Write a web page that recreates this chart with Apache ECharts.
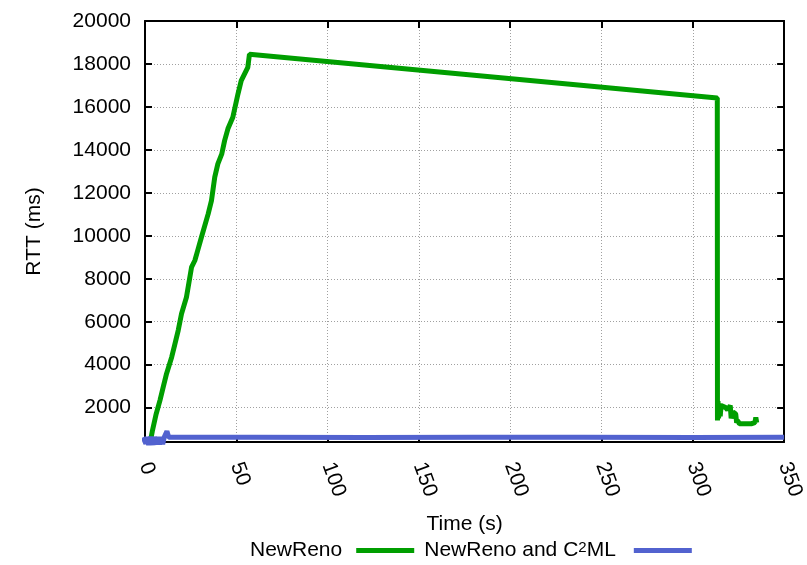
<!DOCTYPE html>
<html>
<head>
<meta charset="utf-8">
<script src="https://cdn.jsdelivr.net/npm/echarts@6/dist/echarts.min.js"></script>
<style>
  html, body { margin: 0; padding: 0; background: #ffffff; }
  #chart { width: 807px; height: 565px; }
</style>
</head>
<body>
<div id="chart"></div>
<script>
// Axis ticks
const timeTicks = [0, 50, 100, 150, 200, 250, 300, 350];
const rttTicks = [2000, 4000, 6000, 8000, 10000, 12000, 14000, 16000, 18000, 20000];

// NewReno RTT trace (time in s, RTT in ms)
const newRenoTime = [
  3, 4, 6.1, 8.2, 10.1, 11.8, 14.6, 16.2, 18.2, 20, 22.7, 25.5, 27.3, 28.8, 30.9,
  34.6, 36.4, 38.2, 39.9, 42, 43.6, 45.4, 48.1, 50.9, 52.7, 56.3, 57.2, 58,
  313.4, 313.5, 313.8, 314.1, 314.5, 315, 315.5, 316, 318, 319, 320.5, 321,
  322, 323.5, 324, 324.5, 325.5, 328, 332, 334, 334.5, 335
];
const newRenoRtt = [
  450, 900, 1700, 2340, 3000, 3580, 4350, 4900, 5600, 6370, 7140, 8540, 8850, 9300, 9930,
  11020, 11640, 12730, 13350, 13800, 14430, 14980, 15520, 16600, 17220, 17840, 18450, 18450,
  16420, 1400, 2300, 1500, 2200, 1600, 2100, 2050, 2000, 1900, 2100, 1500,
  1800, 1700, 1300, 1400, 1250, 1250, 1250, 1300, 1550, 1300
];

// NewReno and C2ML RTT trace
const c2mlTime = [-1, 0.5, 1, 2, 3, 4.3, 5.2, 6.5, 7.2, 8, 8.8, 9.7, 10.5, 12, 13, 60, 120, 180, 240, 300, 350];
const c2mlRtt  = [620, 320, 640, 260, 640, 270, 630, 290, 640, 280, 630, 300, 620, 900, 620, 620, 615, 620, 620, 615, 620];

const seriesNames = ['NewReno', 'NewReno and C\u00B2ML'];
const axisTitles = { x: 'Time (s)', y: 'RTT (ms)' };

const FONT = 'Liberation Sans, Arial, Helvetica, sans-serif';
const zip = (xs, ys) => xs.map((x, i) => [x, ys[i]]);

const gridLine = { show: true, lineStyle: { color: '#a0a0a0', width: 1, type: [1, 2] } };
const frameLine = { show: true, onZero: false, lineStyle: { color: '#000', width: 2 } };
const tickStyle = { show: true, inside: true, length: 7, lineStyle: { color: '#000', width: 2 } };

const chart = echarts.init(document.getElementById('chart'), null, { renderer: 'canvas' });
chart.setOption({
  animation: false,
  backgroundColor: '#ffffff',
  textStyle: { fontFamily: FONT, color: '#000' },
  grid: { left: 145, right: 20, top: 21, bottom: 123, containLabel: false },
  legend: {
    data: [
      { name: seriesNames[0] },
      { name: seriesNames[1], textStyle: { padding: [0, 13, 0, 0] } }
    ],
    left: 245,
    top: 535,
    align: 'right',
    itemWidth: 58,
    itemHeight: 5,
    itemGap: 10,
    icon: 'rect',
    formatter: name => name.replace('\u00B2', '{sup|2}'),
    textStyle: {
      fontFamily: FONT, fontSize: 21, color: '#000', padding: [0, 9, 0, 0],
      rich: { sup: { fontFamily: FONT, fontSize: 15, verticalAlign: 'top', lineHeight: 14 } }
    }
  },
  xAxis: [
    {
      type: 'value', min: 0, max: 350, interval: 50, position: 'bottom',
      name: axisTitles.x, nameLocation: 'middle', nameGap: 72,
      nameTextStyle: { fontFamily: FONT, fontSize: 21, color: '#000' },
      axisLine: frameLine, axisTick: tickStyle,
      axisLabel: { fontFamily: FONT, fontSize: 21, color: '#000', rotate: -70, margin: 21 },
      splitLine: gridLine
    },
    {
      type: 'value', min: 0, max: 350, interval: 50, position: 'top',
      axisLine: frameLine, axisTick: tickStyle,
      axisLabel: { show: false }, splitLine: { show: false }
    }
  ],
  yAxis: [
    {
      type: 'value', min: 400, max: 20000, position: 'left',
      name: axisTitles.y, nameLocation: 'middle', nameGap: 100,
      nameTextStyle: { fontFamily: FONT, fontSize: 21, color: '#000' },
      axisLine: frameLine,
      axisTick: Object.assign({ customValues: rttTicks }, tickStyle),
      axisLabel: {
        fontFamily: FONT, fontSize: 21, color: '#000', margin: 14,
        customValues: rttTicks, formatter: v => String(v)
      },
      splitLine: gridLine
    },
    {
      type: 'value', min: 400, max: 20000, position: 'right',
      axisLine: frameLine,
      axisTick: Object.assign({ customValues: rttTicks }, tickStyle),
      axisLabel: { show: false, customValues: rttTicks }, splitLine: { show: false }
    }
  ],
  series: [
    {
      name: seriesNames[0], type: 'line', xAxisIndex: 0, yAxisIndex: 0,
      data: zip(newRenoTime, newRenoRtt), showSymbol: false, symbol: 'none',
      color: '#009e00', lineStyle: { color: '#009e00', width: 5 }
    },
    {
      name: seriesNames[1], type: 'line', xAxisIndex: 0, yAxisIndex: 0,
      data: zip(c2mlTime, c2mlRtt), showSymbol: false, symbol: 'none', clip: false,
      color: '#5262cf', lineStyle: { color: '#5262cf', width: 5 }
    }
  ]
});
</script>
</body>
</html>
